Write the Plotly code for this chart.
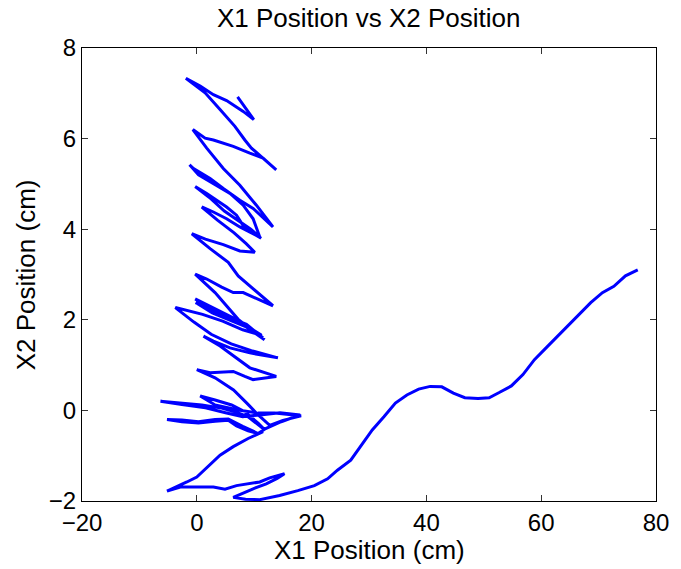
import plotly.graph_objects as go

# Trajectory (X1 position, X2 position), in cm
x1_cm = [7.1, 9.93, 8.08, 5.19, 2.89, 0.59, -1.9,
         1.45, 4.05, 6.64, 8.37, 9.52, 13.84,
         11.54, 9.24, 6.35, 2.89, 1.45, -0.69,
         1.73, 4.62, 7.5, 10.38, 13.27,
         9.81, 7.5, 4.62, 2.32, -0.57, -1.26,
         0.3, 2.89, 5.78, 8.08, 9.81, 10.97,
         8.08, 6.92, 5.19, 3.46, 1.73, -0.28,
         2.2, 4.8, 7.2, 9.4, 11.2,
         10.38, 7.5, 5.19, 2.89, 0.87,
         3.6, 6.5, 8.6, 10.1,
         7.5, 4.62, 1.5, -0.87,
         2.32, 5.48, 7.21, 9.81, 13.27,
         8.08, 6.35, 4.33, 1.73, -0.28,
         3.18, 7.21, 9.5, 11.54,
         8.65, 5.78, 2.89, -0.28,
         2.9, 5.9, 8.8, 11.8,
         8.5, 5.6, 2.7, -0.2,
         3.0, 6.0, 9.0, 11.3,
         8.0, 4.5, 1.0, -3.74,
         -0.5, 2.5, 6.0, 9.5, 14.13,
         9.24, 5.78, 2.89, 1.16,
         4.05, 6.92, 9.24, 13.84,
         9.81, 8.37, 6.35, 2.32, 0.0,
         3.18, 6.4, 8.8, 10.7, 12.7,
         15.0, 18.17,
         13.56, 10.67, 7.21, 3.18, 0.59,
         3.18, 6.06, 8.37, 10.67, 11.83,
         8.94, 6.64, 4.33, 0.87, -2.59, -6.33,
         -2.6, 1.5, 5.0, 8.0, 11.0, 14.5, 18.0,
         14.7, 12.0, 10.67, 8.0, 5.48, 3.18, 0.29, -2.59, -5.19,
         -2.59, 0.29, 3.18, 5.48, 6.92, 8.94, 10.67, 11.55,
         8.94, 6.35, 4.05, 0.0, -1.73, -5.19,
         -2.87, 2.89, 4.91, 6.92, 10.97, 12.7, 15.29,
         14.0, 12.1, 9.81, 6.35,
         8.5, 10.97, 14.43, 17.6, 20.48, 22.79, 24.5, 26.82, 28.55, 30.57,
         32.6, 34.6, 36.6, 38.65, 40.66, 42.68, 44.7, 46.7, 49.0, 50.93,
         52.77, 54.8, 56.82, 58.82, 60.85, 62.58, 64.6, 66.6, 68.63, 70.66,
         72.66, 74.68, 76.82]

x2_cm = [6.92, 6.42, 6.60, 6.84, 6.97, 7.16, 7.33,
         7.01, 6.64, 6.27, 5.97, 5.79, 5.31,
         5.57, 5.68, 5.83, 5.97, 6.01, 6.2,
         5.79, 5.34, 4.97, 4.53, 4.05,
         4.46, 4.64, 4.9, 5.12, 5.34, 5.42,
         5.2, 5.01, 4.79, 4.53, 4.23, 3.83,
         4.08, 4.31, 4.49, 4.64, 4.79, 4.94,
         4.7, 4.4, 4.2, 4.0, 3.8,
         3.86, 4.05, 4.23, 4.38, 4.49,
         4.2, 3.92, 3.68, 3.49,
         3.52, 3.66, 3.78, 3.9,
         3.57, 3.27, 2.97, 2.68, 2.31,
         2.6, 2.6, 2.72, 2.9, 3.01,
         2.6, 2.01, 1.78, 1.6,
         1.9, 2.05, 2.2, 2.46,
         2.25, 2.07, 1.88, 1.56,
         1.85, 2.0, 2.15, 2.38,
         2.18, 2.02, 1.84, 1.66,
         1.78, 1.97, 2.12, 2.27,
         1.95, 1.68, 1.47, 1.32, 1.16,
         1.27, 1.38, 1.53, 1.64,
         1.42, 1.16, 0.94, 0.75,
         0.68, 0.75, 0.86, 0.83, 0.9,
         0.72, 0.45, 0.15, -0.1, -0.33,
         -0.22, -0.12,
         -0.06, -0.06, 0.01, 0.12, 0.32,
         0.23, 0.12, -0.03, -0.28, -0.43,
         -0.14, -0.03, 0.05, 0.12, 0.16, 0.2,
         0.13, 0.06, -0.05, -0.14, -0.1, -0.05, -0.1,
         -0.25, -0.4, -0.51, -0.35, -0.19, -0.2, -0.25, -0.21, -0.2,
         -0.25, -0.28, -0.24, -0.22, -0.34, -0.45, -0.51, -0.47,
         -0.62, -0.8, -0.99, -1.47, -1.58, -1.78,
         -1.69, -1.69, -1.74, -1.66, -1.58, -1.49, -1.4,
         -1.5, -1.62, -1.73, -1.92,
         -1.96, -1.97, -1.88, -1.77, -1.66, -1.51, -1.32, -1.1, -0.8, -0.43,
         -0.14, 0.16, 0.34, 0.47, 0.53, 0.52, 0.38, 0.28, 0.26, 0.28,
         0.40, 0.54, 0.79, 1.12, 1.38, 1.6, 1.86, 2.1, 2.38, 2.6,
         2.74, 2.97, 3.1]

x_ticks = [-20, 0, 20, 40, 60, 80]
y_ticks = [-2, 0, 2, 4, 6, 8]

title_text = "X1 Position vs X2 Position"
x_label = "X1 Position (cm)"
y_label = "X2 Position (cm)"

FONT = "Liberation Sans, Arial, Helvetica, sans-serif"

fig = go.Figure()
fig.add_trace(go.Scatter(x=x1_cm, y=x2_cm, mode="lines",
                         line=dict(color="#0000ff", width=3),
                         showlegend=False, hoverinfo="skip"))

axis_common = dict(showline=True, linecolor="black", linewidth=1, mirror="ticks",
                   ticks="inside", ticklen=6, tickcolor="#333333", tickwidth=1,
                   showgrid=False, zeroline=False,
                   tickfont=dict(family=FONT, size=24, color="black"))

fig.update_xaxes(range=[-20, 80], tickmode="array", tickvals=x_ticks, **axis_common)
fig.update_yaxes(range=[-2, 8], tickmode="array", tickvals=y_ticks, **axis_common)

fig.update_layout(
    width=681, height=569,
    margin=dict(l=82, r=18, t=48, b=68),
    paper_bgcolor="white", plot_bgcolor="white",
    font=dict(family=FONT, color="black"),
    annotations=[
        dict(text=title_text, xref="paper", yref="paper", x=0.5, y=1.066,
             xanchor="center", yanchor="middle", showarrow=False,
             font=dict(family=FONT, size=26, color="black")),
        dict(text=x_label, xref="paper", yref="paper", x=0.5, y=-0.108,
             xanchor="center", yanchor="middle", showarrow=False,
             font=dict(family=FONT, size=26, color="black")),
        dict(text=y_label, xref="paper", yref="paper", x=-0.098, y=0.5,
             xanchor="center", yanchor="middle", showarrow=False, textangle=-90,
             font=dict(family=FONT, size=26, color="black")),
    ],
)

fig.write_html("out.html")
